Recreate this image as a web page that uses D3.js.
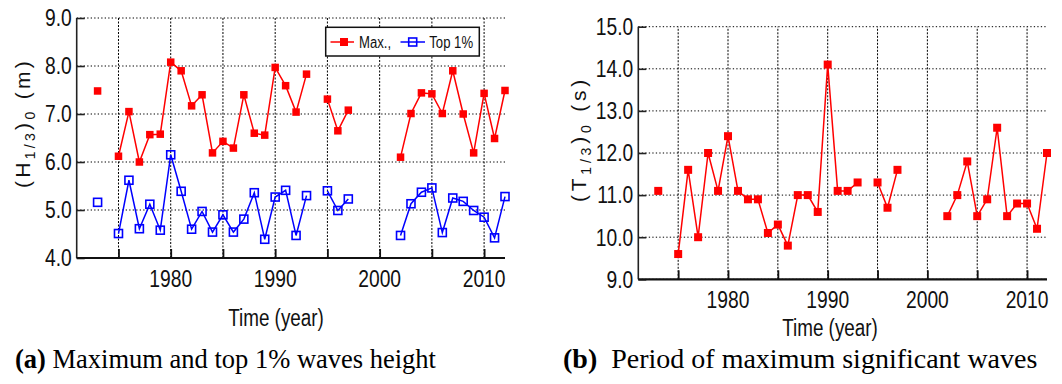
<!DOCTYPE html>
<html>
<head>
<meta charset="utf-8">
<script src="https://cdn.jsdelivr.net/npm/d3@7/dist/d3.min.js"></script>
<style>
  html, body { margin: 0; padding: 0; background: #fff; }
  svg { display: block; }
  .nar { font-family: "Liberation Sans", Arial, sans-serif; }
  .reg { font-family: "Liberation Sans", Arial, sans-serif; }
  .ser { font-family: "Liberation Serif", "Times New Roman", serif; }
</style>
</head>
<body>
<svg id="chart" width="1062" height="384"></svg>
<script>
// ---------------- data ----------------
const years = d3.range(1973, 2013);
const maxHeight = [7.48, null, 6.12, 7.05, 6.00, 6.57, 6.58, 8.08, 7.90, 7.17, 7.40, 6.19, 6.43, 6.29, 7.40, 6.60, 6.56, 7.97, 7.59, 7.04, 7.83, null, 7.31, 6.65, 7.08, null, null, null, null, 6.10, 7.01, 7.44, 7.42, 7.01, 7.90, 7.00, 6.19, 7.43, 6.49, 7.49];
const top1Height = [5.16, null, 4.51, 5.62, 4.61, 5.12, 4.58, 6.15, 5.39, 4.60, 4.97, 4.54, 4.90, 4.54, 4.81, 5.36, 4.39, 5.27, 5.41, 4.47, 5.30, null, 5.40, 4.99, 5.23, null, null, null, null, 4.47, 5.13, 5.37, 5.46, 4.53, 5.25, 5.18, 4.99, 4.85, 4.42, 5.28];
const maxPeriod = [11.1, null, 9.6, 11.6, 10.0, 12.0, 11.1, 12.4, 11.1, 10.9, 10.9, 10.1, 10.3, 9.8, 11.0, 11.0, 10.6, 14.1, 11.1, 11.1, 11.3, null, 11.3, 10.7, 11.6, null, null, null, null, 10.5, 11.0, 11.8, 10.5, 10.9, 12.6, 10.5, 10.8, 10.8, 10.2, 12.0];
const xDomain = [1971, 2012];
const xTicks = [1975, 1980, 1985, 1990, 1995, 2000, 2005, 2010];
const xLabels = [1980, 1990, 2000, 2010];
const yTicksH = [4, 5, 6, 7, 8, 9];
const yTicksT = [9, 10, 11, 12, 13, 14, 15];
const legendLabels = ["Max.,", "Top 1%"];
const captionA = ["(a)", " Maximum and top 1% waves height"];
const captionB = ["(b)", "  Period of maximum significant waves"];

const RED = "#ff0000", BLUE = "#0000ff";
const NARROW = 0.82;
const svg = d3.select("#chart");

// condensed text (Arial Narrow look) made by horizontal scaling
function ntext(parent, x, y, str, size, anchor) {
  const t = parent.append("g").attr("transform", `translate(${x},${y}) scale(${NARROW},1)`)
    .append("text").attr("class", "nar").attr("font-size", size)
    .attr("text-anchor", anchor || "start").attr("fill", "#111").text(str);
  return t;
}

function panel(cfg) {
  const g = svg.append("g");
  const x = d3.scaleLinear().domain(xDomain).range([cfg.x0, cfg.x1]);
  const y = d3.scaleLinear().domain(cfg.yDomain).range([cfg.y0, cfg.y1]);

  // grid
  g.append("g").selectAll("line").data(cfg.yTicks).join("line")
    .attr("x1", cfg.x0).attr("x2", cfg.x1)
    .attr("y1", d => y(d)).attr("y2", d => y(d))
    .attr("stroke", "#000").attr("stroke-width", 1).attr("stroke-dasharray", "1.3,2.2");
  g.append("g").selectAll("line").data(xTicks).join("line")
    .attr("x1", d => x(d)).attr("x2", d => x(d))
    .attr("y1", cfg.y0).attr("y2", cfg.y1)
    .attr("stroke", "#000").attr("stroke-width", 1).attr("stroke-dasharray", "2,1.5");

  // axes (inward ticks)
  const yAxis = d3.axisRight(y).tickValues(cfg.yTicks).tickSize(8).tickFormat("");
  const ya = g.append("g").attr("transform", `translate(${cfg.x0},0)`).call(yAxis);
  ya.select(".domain").attr("stroke", "#222").attr("stroke-width", 1.6).attr("d", `M0,${cfg.y1}V${cfg.y0}`);
  ya.selectAll(".tick line").attr("stroke", "#222").attr("stroke-width", 1.6);

  const xAxis = d3.axisTop(x).tickValues(xTicks).tickSize(9).tickFormat("");
  const xa = g.append("g").attr("transform", `translate(0,${cfg.y0})`).call(xAxis);
  xa.select(".domain").attr("stroke", "#111").attr("stroke-width", 2.2).attr("d", `M${cfg.x0},0H${cfg.x1}`);
  xa.selectAll(".tick line").attr("stroke", "#111").attr("stroke-width", 1.8);

  // tick labels
  const yl = g.append("g");
  cfg.yTicks.forEach(d => ntext(yl, cfg.x0 - 5, y(d) + 8.3, d3.format(".1f")(d), 23.5, "end"));
  const xl = g.append("g");
  xLabels.forEach(d => ntext(xl, x(d), cfg.y0 + 29, String(d), 23.5, "middle"));

  // x title
  ntext(g, cfg.xTitleX, cfg.xTitleY, "Time (year)", 23, "middle");

  // y title with subscripts
  const yt = g.append("text").attr("class", "reg").attr("font-size", 21)
    .attr("letter-spacing", cfg.ls)
    .attr("text-anchor", "middle").attr("fill", "#111")
    .attr("transform", `translate(${cfg.yTitleX},${cfg.yTitleY}) rotate(-90)`);
  yt.append("tspan").text("(" + cfg.sym);
  yt.append("tspan").attr("font-size", 14).attr("dy", 5).text("1/3");
  yt.append("tspan").attr("dy", -5).text(")");
  yt.append("tspan").attr("font-size", 14).attr("dy", 5).text("0");
  yt.append("tspan").attr("dy", -5).text(" (" + cfg.unit + ")");

  return {g, x, y};
}

function series(p, values, color, size, filled) {
  const pts = years.map((yr, i) => ({yr, v: values[i]}));
  const line = d3.line().defined(d => d.v != null).x(d => p.x(d.yr)).y(d => p.y(d.v));
  p.g.append("path").datum(pts).attr("d", line)
    .attr("fill", "none").attr("stroke", color).attr("stroke-width", 1.5);
  p.g.append("g").selectAll("rect").data(pts.filter(d => d.v != null)).join("rect")
    .attr("x", d => p.x(d.yr) - size / 2).attr("y", d => p.y(d.v) - size / 2)
    .attr("width", size).attr("height", size)
    .attr("fill", filled ? color : "none")
    .attr("stroke", color).attr("stroke-width", filled ? 0 : 1.6);
}

// ---------------- panel (a) ----------------
const pa = panel({x0: 76.7, x1: 505, y0: 258, y1: 18, yDomain: [4, 9], yTicks: yTicksH,
  xTitleX: 276, xTitleY: 326, yTitleX: 30, yTitleY: 123, sym: "H", unit: "m", ls: 3.3});
series(pa, maxHeight, RED, 7.5, true);
series(pa, top1Height, BLUE, 8, false);

// legend
const lg = pa.g.append("g");
lg.append("rect").attr("x", 325.7).attr("y", 27.3).attr("width", 153.6).attr("height", 28.7)
  .attr("fill", "#fff").attr("stroke", "#111").attr("stroke-width", 1.5);
const legendItems = [
  {label: legendLabels[0], color: RED, filled: true, lx0: 330.5, lx1: 354, mx: 344, tx: 359},
  {label: legendLabels[1], color: BLUE, filled: false, lx0: 400.5, lx1: 425, mx: 412.7, tx: 429.3}
];
legendItems.forEach(it => {
  lg.append("line").attr("x1", it.lx0).attr("x2", it.lx1).attr("y1", 42).attr("y2", 42)
    .attr("stroke", it.color).attr("stroke-width", 1.5);
  lg.append("rect").attr("x", it.mx - 4).attr("y", 38).attr("width", 8).attr("height", 8)
    .attr("fill", it.filled ? it.color : "none").attr("stroke", it.color).attr("stroke-width", it.filled ? 0 : 1.6);
  ntext(lg, it.tx, 47.8, it.label, 16, "start");
});

// ---------------- panel (b) ----------------
const pb = panel({x0: 638.3, x1: 1047, y0: 279.3, y1: 26.7, yDomain: [9, 15], yTicks: yTicksT,
  xTitleX: 830, xTitleY: 335.5, yTitleX: 586, yTitleY: 139, sym: "T", unit: "s", ls: 3.8});
series(pb, maxPeriod, RED, 8, true);

// ---------------- captions ----------------
const ca = svg.append("text").attr("class", "ser").attr("font-size", 26.5).attr("x", 15).attr("y", 367.5).attr("fill", "#000");
ca.append("tspan").attr("font-weight", "bold").text(captionA[0]);
ca.append("tspan").attr("xml:space", "preserve").text(captionA[1]);
const cb = svg.append("text").attr("class", "ser").attr("font-size", 28).attr("x", 563).attr("y", 367.5).attr("fill", "#000")
  .style("white-space", "pre");
cb.append("tspan").attr("font-weight", "bold").text(captionB[0]);
cb.append("tspan").text(captionB[1]);
</script>
</body>
</html>
